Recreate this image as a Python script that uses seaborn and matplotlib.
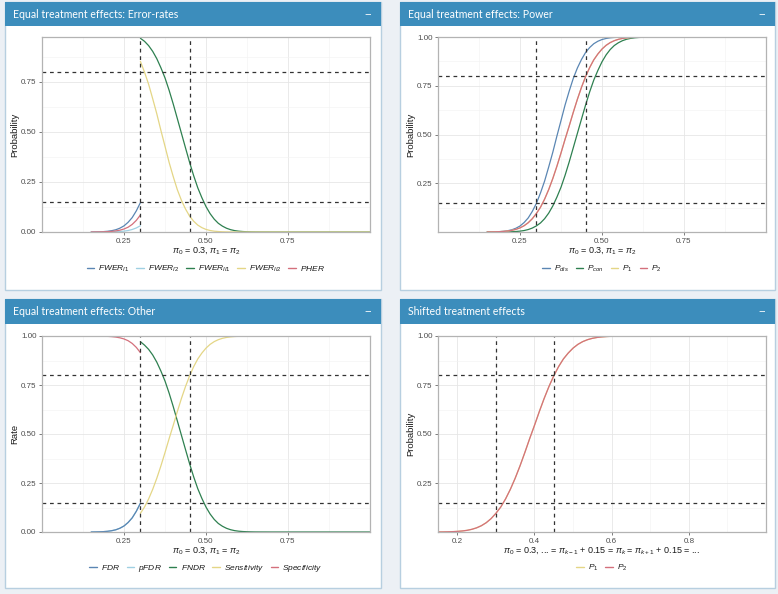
import matplotlib
matplotlib.use('Agg')
import matplotlib.pyplot as plt
import matplotlib.patches as mpatches
from matplotlib.lines import Line2D
import seaborn as sns
import pandas as pd

# x grids (response rate under the alternative)
x_all = [0.1500, 0.1625, 0.1750, 0.1875, 0.2000, 0.2125, 0.2250, 0.2375, 0.2500, 0.2625, 0.2750,
         0.2875, 0.3000, 0.3125, 0.3250, 0.3375, 0.3500, 0.3625, 0.3750, 0.3875, 0.4000, 0.4125,
         0.4250, 0.4375, 0.4500, 0.4625, 0.4750, 0.4875, 0.5000, 0.5125, 0.5250, 0.5375, 0.5500,
         0.5625, 0.5750, 0.5875, 0.6000, 0.6125, 0.6250, 0.6375, 0.6500, 0.7000, 0.8000, 0.9000, 1.0000]
x_null = [0.1500, 0.1625, 0.1750, 0.1875, 0.2000, 0.2125, 0.2250, 0.2375, 0.2500, 0.2625, 0.2750,
          0.2875, 0.3000]
x_alt = [0.3000, 0.3125, 0.3250, 0.3375, 0.3500, 0.3625, 0.3750, 0.3875, 0.4000, 0.4125, 0.4250,
         0.4375, 0.4500, 0.4625, 0.4750, 0.4875, 0.5000, 0.5125, 0.5250, 0.5375, 0.5500, 0.5625,
         0.5750, 0.5875, 0.6000, 0.6125, 0.6250, 0.6375, 0.6500, 0.7000, 0.8000, 0.9000, 1.0000]

# Error-rates panel
fwer_i1 = [0.0002, 0.0005, 0.0010, 0.0019, 0.0036, 0.0066, 0.0113, 0.0192, 0.0307, 0.0485, 0.0721,
           0.1056, 0.1469]
fwer_i2 = [0.0000, 0.0000, 0.0001, 0.0002, 0.0004, 0.0007, 0.0014, 0.0026, 0.0044, 0.0075, 0.0125,
           0.0202, 0.0314]
pher = [0.0001, 0.0003, 0.0005, 0.0010, 0.0018, 0.0032, 0.0055, 0.0092, 0.0150, 0.0240, 0.0380,
        0.0580, 0.0850]
fwer_ii1 = [0.9686, 0.9535, 0.9319, 0.9032, 0.8665, 0.8212, 0.7704, 0.7088, 0.6406, 0.5675, 0.4940,
            0.4207, 0.3483, 0.2810, 0.2206, 0.1711, 0.1271, 0.0918, 0.0643, 0.0436, 0.0294, 0.0188,
            0.0116, 0.0069, 0.0040, 0.0023, 0.0013, 0.0007, 0.0003, 0.0, 0.0, 0.0, 0.0]
fwer_ii2 = [0.8531, 0.7995, 0.7389, 0.6664, 0.5910, 0.5080, 0.4286, 0.3483, 0.2776, 0.2119, 0.1587,
            0.1151, 0.0793, 0.0537, 0.0344, 0.0217, 0.0129, 0.0075, 0.0041, 0.0023, 0.0011, 0.0006,
            0.0003, 0.0001, 0.0, 0.0, 0.0, 0.0, 0.0, 0.0, 0.0, 0.0, 0.0]

# Power panel
p_dis = [0.0002, 0.0005, 0.0010, 0.0019, 0.0036, 0.0066, 0.0113, 0.0192, 0.0307, 0.0485, 0.0721,
         0.1056, 0.1469, 0.2005, 0.2611, 0.3336, 0.4090, 0.4920, 0.5714, 0.6517, 0.7224, 0.7881,
         0.8413, 0.8849, 0.9207, 0.9463, 0.9656, 0.9783, 0.9871, 0.9925, 0.9959, 0.9977, 0.9989,
         0.9994, 0.9997, 0.9999, 1.0, 1.0, 1.0, 1.0, 1.0, 1.0, 1.0, 1.0, 1.0]
p_con = [0.0000, 0.0000, 0.0001, 0.0002, 0.0004, 0.0007, 0.0014, 0.0026, 0.0044, 0.0075, 0.0125,
         0.0202, 0.0314, 0.0465, 0.0681, 0.0968, 0.1335, 0.1788, 0.2296, 0.2912, 0.3594, 0.4325,
         0.5060, 0.5793, 0.6517, 0.7190, 0.7794, 0.8289, 0.8729, 0.9082, 0.9357, 0.9564, 0.9706,
         0.9812, 0.9884, 0.9931, 0.9960, 0.9977, 0.9987, 0.9993, 0.9997, 1.0, 1.0, 1.0, 1.0]
p_1 = [0.0003, 0.0005, 0.0010, 0.0018, 0.0031, 0.0052, 0.0084, 0.0136, 0.0212, 0.0322, 0.0475,
       0.0681, 0.0951, 0.1271, 0.1685, 0.2177, 0.2743, 0.3372, 0.4052, 0.4761, 0.5438, 0.6141,
       0.6808, 0.7422, 0.7967, 0.8438, 0.8830, 0.9131, 0.9382, 0.9573, 0.9713, 0.9812, 0.9881,
       0.9927, 0.9955, 0.9974, 0.9985, 0.9992, 0.9996, 0.9998, 0.9999, 1.0, 1.0, 1.0, 1.0]
p_2 = [0.0003, 0.0005, 0.0010, 0.0018, 0.0031, 0.0052, 0.0084, 0.0136, 0.0212, 0.0322, 0.0475,
       0.0681, 0.0951, 0.1271, 0.1685, 0.2177, 0.2743, 0.3372, 0.4052, 0.4761, 0.5438, 0.6141,
       0.6808, 0.7422, 0.7967, 0.8438, 0.8830, 0.9131, 0.9382, 0.9573, 0.9713, 0.9812, 0.9881,
       0.9927, 0.9955, 0.9974, 0.9985, 0.9992, 0.9996, 0.9998, 0.9999, 1.0, 1.0, 1.0, 1.0]

# Other panel
fdr = [0.0002, 0.0005, 0.0010, 0.0019, 0.0036, 0.0066, 0.0113, 0.0192, 0.0307, 0.0485, 0.0721,
       0.1056, 0.1469]
pfdr = [0.0002, 0.0005, 0.0010, 0.0019, 0.0036, 0.0066, 0.0113, 0.0192, 0.0307, 0.0485, 0.0721,
        0.1056, 0.1469]
fndr = [0.9710, 0.9535, 0.9319, 0.9032, 0.8665, 0.8212, 0.7704, 0.7088, 0.6406, 0.5675, 0.4940,
        0.4207, 0.3483, 0.2810, 0.2206, 0.1711, 0.1271, 0.0918, 0.0643, 0.0436, 0.0294, 0.0188,
        0.0116, 0.0069, 0.0040, 0.0023, 0.0013, 0.0007, 0.0003, 0.0, 0.0, 0.0, 0.0]
sensitivity = [0.0951, 0.1271, 0.1685, 0.2177, 0.2743, 0.3372, 0.4052, 0.4761, 0.5438, 0.6141, 0.6808,
               0.7422, 0.7967, 0.8438, 0.8830, 0.9131, 0.9382, 0.9573, 0.9713, 0.9812, 0.9881, 0.9927,
               0.9955, 0.9974, 0.9985, 0.9992, 0.9996, 0.9998, 0.9999, 1.0, 1.0, 1.0, 1.0]
specificity = [0.9999, 0.9997, 0.9995, 0.9990, 0.9982, 0.9968, 0.9945, 0.9908, 0.9850, 0.9760, 0.9620,
               0.9420, 0.9150]

# Shifted panel
shift_p1 = [0.0003, 0.0005, 0.0010, 0.0018, 0.0031, 0.0052, 0.0084, 0.0136, 0.0212, 0.0322, 0.0475,
            0.0681, 0.0951, 0.1271, 0.1685, 0.2177, 0.2743, 0.3372, 0.4052, 0.4761, 0.5438, 0.6141,
            0.6808, 0.7422, 0.7967, 0.8438, 0.8830, 0.9131, 0.9382, 0.9573, 0.9713, 0.9812, 0.9881,
            0.9927, 0.9955, 0.9974, 0.9985, 0.9992, 0.9996, 0.9998, 0.9999, 1.0, 1.0, 1.0, 1.0]
shift_p2 = [0.0003, 0.0005, 0.0010, 0.0018, 0.0031, 0.0052, 0.0084, 0.0136, 0.0212, 0.0322, 0.0475,
            0.0681, 0.0951, 0.1271, 0.1685, 0.2177, 0.2743, 0.3372, 0.4052, 0.4761, 0.5438, 0.6141,
            0.6808, 0.7422, 0.7967, 0.8438, 0.8830, 0.9131, 0.9382, 0.9573, 0.9713, 0.9812, 0.9881,
            0.9927, 0.9955, 0.9974, 0.9985, 0.9992, 0.9996, 0.9998, 0.9999, 1.0, 1.0, 1.0, 1.0]

titles = ['Equal treatment effects: Error-rates', 'Equal treatment effects: Power',
          'Equal treatment effects: Other', 'Shifted treatment effects']

BLUE, LBLUE, GREEN, YELLOW, RED = '#5a86b3', '#9fd0e2', '#2e8050', '#e4d686', '#d4707c'

W, H = 778, 594
sns.set_theme(style='white')
plt.rcParams['font.family'] = ['Liberation Sans', 'DejaVu Sans']
plt.rcParams['mathtext.fontset'] = 'custom'
plt.rcParams['mathtext.it'] = 'Liberation Sans:italic'
plt.rcParams['mathtext.rm'] = 'Liberation Sans'

fig = plt.figure(figsize=(W / 100, H / 100), dpi=100)
fig.patch.set_facecolor('#ecf0f5')


def px_rect(l, t, r, b):
    return [l / W, 1 - b / H, (r - l) / W, (b - t) / H]


# dashboard boxes (drawn beneath the axes)
for (l, t, r, b, hb), title in zip([(5, 2, 381, 290, 26), (400, 2, 775, 290, 26),
                                    (5, 299, 381, 588, 324), (400, 299, 775, 588, 324)], titles):
    fig.patches.append(mpatches.Rectangle((l / W, 1 - b / H), (r - l) / W, (b - t) / H,
                                          transform=fig.transFigure, facecolor='white',
                                          edgecolor='#b7cfe0', lw=1, zorder=-2))
    fig.patches.append(mpatches.Rectangle((l / W, 1 - hb / H), (r - l) / W, (hb - t) / H,
                                          transform=fig.transFigure, facecolor='#3c8dbc',
                                          edgecolor='none', zorder=-1))
    fig.text((l + 8) / W, 1 - (t + hb) / 2 / H, title, color='white', fontsize=7.6,
             family=['Lato', 'DejaVu Sans'], va='center', ha='left')
    fig.text((r - 13) / W, 1 - (t + hb) / 2 / H, '\u2212', color='white', fontsize=8,
             va='center', ha='center')


def panel(rect, frames, plot_order, palette, legend_order, labels, xlim, xticks, ylim, yticks,
          ylabel, xlabel, vlines, legend_y):
    ax = fig.add_axes(px_rect(*rect))
    ax.set_facecolor('white')
    df = pd.concat([pd.DataFrame({'x': xs, 'y': ys, 'series': name}) for name, xs, ys in frames])
    sns.lineplot(data=df, x='x', y='y', hue='series', hue_order=plot_order, palette=palette,
                 ax=ax, legend=False, linewidth=0.9, estimator=None)
    for v in vlines:
        ax.axvline(v, color='#333333', lw=0.9, ls=(0, (3, 3)))
    for h in [0.8, 0.15]:
        ax.axhline(h, color='#333333', lw=0.9, ls=(0, (3, 3)))
    ax.set_xlim(*xlim)
    ax.set_ylim(*ylim)
    ax.set_xticks(xticks)
    ax.set_yticks(yticks)
    ax.set_xticklabels([f'{t:.2f}' if xticks[0] == 0.25 else f'{t:.1f}' for t in xticks])
    ax.set_yticklabels([f'{t:.2f}' for t in yticks])
    step = xticks[1] - xticks[0]
    minors_x = [xticks[0] - step / 2] + [t + step / 2 for t in xticks]
    ax.set_xticks([m for m in minors_x if xlim[0] < m < xlim[1]], minor=True)
    ax.set_yticks([0.125, 0.375, 0.625, 0.875], minor=True)
    ax.grid(which='major', color='#e6e6e6', lw=0.6)
    ax.grid(which='minor', color='#f2f2f2', lw=0.4)
    ax.set_axisbelow(True)
    for s in ax.spines.values():
        s.set_color('#b3b3b3')
        s.set_linewidth(0.9)
    ax.tick_params(which='major', length=2.5, width=0.6, color='#666666', labelsize=5.8,
                   labelcolor='#4d4d4d', pad=1.5, bottom=True, left=True)
    ax.tick_params(which='minor', length=0)
    ax.set_ylabel(ylabel, fontsize=6.8, color='#1a1a1a', labelpad=1)
    ax.set_xlabel(xlabel, fontsize=6.5, color='#1a1a1a', labelpad=0.5)
    handles = [Line2D([], [], color=palette[n], lw=1) for n in legend_order]
    cx = (rect[0] + rect[2]) / 2
    fig.legend(handles, labels, loc='center', bbox_to_anchor=(cx / W, 1 - legend_y / H), ncol=len(labels),
               frameon=False, fontsize=6, handlelength=0.9, handletextpad=0.5, columnspacing=0.8,
               labelcolor='#1a1a1a')
    return ax


xlab = r'$\pi_0$ = 0.3, $\pi_1$ = $\pi_2$'

panel((42, 37, 370, 232),
      [('FWER_I1', x_null, fwer_i1), ('FWER_I2', x_null, fwer_i2), ('FWER_II1', x_alt, fwer_ii1),
       ('FWER_II2', x_alt, fwer_ii2), ('PHER', x_null, pher)],
      ['FWER_I1', 'FWER_I2', 'FWER_II1', 'FWER_II2', 'PHER'],
      {'FWER_I1': BLUE, 'FWER_I2': LBLUE, 'FWER_II1': GREEN, 'FWER_II2': YELLOW, 'PHER': RED},
      ['FWER_I1', 'FWER_I2', 'FWER_II1', 'FWER_II2', 'PHER'],
      [r'$FWER_{I1}$', r'$FWER_{I2}$', r'$FWER_{II1}$', r'$FWER_{II2}$', r'$PHER$'],
      (0.0, 1.0), [0.25, 0.5, 0.75], (0.0, 0.975), [0.0, 0.25, 0.5, 0.75],
      'Probability', xlab, [0.3, 0.45], 269)

panel((438, 37, 766, 232),
      [('P_dis', x_all, p_dis), ('P_con', x_all, p_con), ('P_1', x_all, p_1), ('P_2', x_all, p_2)],
      ['P_dis', 'P_con', 'P_1', 'P_2'],
      {'P_dis': BLUE, 'P_con': GREEN, 'P_1': YELLOW, 'P_2': RED},
      ['P_dis', 'P_con', 'P_1', 'P_2'],
      [r'$P_{dis}$', r'$P_{con}$', r'$P_1$', r'$P_2$'],
      (0.0, 1.0), [0.25, 0.5, 0.75], (0.0, 1.0), [0.25, 0.5, 0.75, 1.0],
      'Probability', xlab, [0.3, 0.45], 269)

panel((42, 336, 370, 532),
      [('FDR', x_null, fdr), ('pFDR', x_null, pfdr), ('FNDR', x_alt, fndr),
       ('Sensitivity', x_alt, sensitivity), ('Specificity', x_null, specificity)],
      ['pFDR', 'FDR', 'FNDR', 'Sensitivity', 'Specificity'],
      {'FDR': BLUE, 'pFDR': LBLUE, 'FNDR': GREEN, 'Sensitivity': YELLOW, 'Specificity': RED},
      ['FDR', 'pFDR', 'FNDR', 'Sensitivity', 'Specificity'],
      [r'$FDR$', r'$pFDR$', r'$FNDR$', r'$Sensitivity$', r'$Specificity$'],
      (0.0, 1.0), [0.25, 0.5, 0.75], (0.0, 1.0), [0.0, 0.25, 0.5, 0.75, 1.0],
      'Rate', xlab, [0.3, 0.45], 568)

panel((438, 336, 766, 532),
      [('P_1', x_all, shift_p1), ('P_2', x_all, shift_p2)],
      ['P_1', 'P_2'],
      {'P_1': YELLOW, 'P_2': RED},
      ['P_1', 'P_2'],
      [r'$P_1$', r'$P_2$'],
      (0.15, 1.0), [0.2, 0.4, 0.6, 0.8], (0.0, 1.0), [0.25, 0.5, 0.75, 1.0],
      'Probability',
      r'$\pi_0$ = 0.3, ... = $\pi_{k-1}$ + 0.15 = $\pi_k$ = $\pi_{k+1}$ + 0.15 = ...',
      [0.3, 0.45], 568)

fig.savefig('out.png', dpi=100, facecolor=fig.get_facecolor())
